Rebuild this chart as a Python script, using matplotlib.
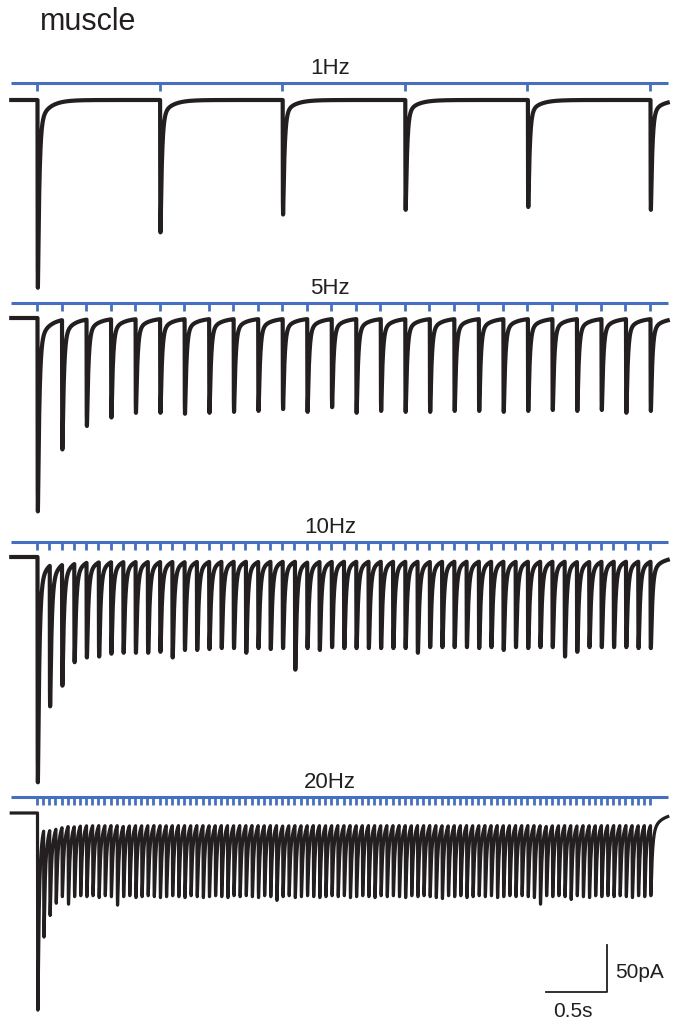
import numpy as np
import matplotlib
matplotlib.use('Agg')
import matplotlib.pyplot as plt

plt.rcParams['font.family'] = ['Liberation Sans', 'DejaVu Sans']

# peak current of each evoked response (pA)
freqs = [1, 5, 10, 20]
labels = ['1Hz', '5Hz', '10Hz', '20Hz']
amp_1hz = [200, 141, 122, 117, 114, 117]
amp_5hz = [206, 140, 115, 106, 101, 101, 102, 101, 100, 99, 97, 100, 95,
           101, 99, 100, 100, 99, 99, 100, 99, 98, 99, 98, 101, 99]
amp_10hz = [240, 159, 137, 112, 107, 106, 103, 102, 102, 102, 101, 107, 99,
            99, 98, 97, 97, 102, 97, 98, 97, 120, 97, 99, 96, 97, 97, 97,
            97, 97, 97, 102, 96, 96, 96, 96, 97, 96, 99, 96, 97, 96, 96,
            106, 101, 96, 96, 96, 96, 97, 97]
amp_20hz = [210, 132, 109, 96, 89, 97, 89, 88, 89, 88, 90, 88, 89, 98, 89, 88, 90, 89, 88, 89,
            90, 89, 88, 89, 90, 88, 89, 90, 89, 88, 89, 90, 88, 89, 88, 89, 90, 88, 89, 93,
            89, 88, 90, 89, 88, 89, 90, 89, 88, 89, 88, 90, 89, 88, 89, 90, 88, 89, 88, 89,
            90, 88, 89, 88, 89, 90, 91, 88, 89, 88, 90, 89, 88, 89, 88, 90, 89, 88, 89, 88,
            89, 90, 97, 88, 89, 88, 89, 92, 88, 89, 90, 88, 89, 88, 89, 88, 89, 90, 88, 89,
            88]
amps = [amp_1hz, amp_5hz, amp_10hz, amp_20hz]

# layout (pixels of the 683x1024 figure)
W, H = 683, 1024
px_per_s = 122.6
px_per_pA = 0.94
x_stim0 = 37
baseline_px = [100, 318, 557, 813]
stimline_px = [83, 303, 542, 797]
t_start, t_end = -0.21, 5.145

blue = '#4670bf'
black = '#231f20'


def kernel(t, tr=0.0012, tf=0.012, ts=0.08, frac=0.9):
    g = (1 - np.exp(-t / tr)) * (frac * np.exp(-t / tf) + (1 - frac) * np.exp(-t / ts))
    g[t < 0] = 0
    return g


def build_trace(t, stims, depths, lat=0.004):
    tk = np.arange(0, 0.3, 0.0001)
    k = kernel(tk)
    norm = k.max()
    tpk = tk[np.argmax(k)]
    y = np.zeros_like(t)
    for s, d in zip(stims, depths):
        # subtract what is left over from earlier responses
        i = np.searchsorted(t, s + lat + tpk)
        resid = -y[min(i, len(y) - 1)]
        a = max(d - resid, 0)
        y -= a * kernel(t - s - lat) / norm
    return y


fig = plt.figure(figsize=(W / 100, H / 100), dpi=100)
ax = fig.add_axes([0, 0, 1, 1])
ax.set_xlim(-x_stim0 / px_per_s, (W - x_stim0) / px_per_s)
ax.set_ylim(-H / px_per_pA, 0)
ax.axis('off')

t = np.arange(t_start, t_end, 0.0004)
for f, lab, a, base, sl in zip(freqs, labels, amps, baseline_px, stimline_px):
    stims = np.arange(len(a)) / f
    y0 = -base / px_per_pA
    ys = -sl / px_per_pA
    lw = 3.0 if f < 20 else 2.3
    ax.plot(t, y0 + build_trace(t, stims, a), color=black, lw=lw, solid_joinstyle='round')
    ax.plot([t_start, t_end], [ys, ys], color=blue, lw=2.2, solid_capstyle='butt')
    ax.vlines(stims, ys, ys - 8 / px_per_pA, color=blue, lw=2.0)
    ax.text((330 - x_stim0) / px_per_s, ys + 9 / px_per_pA, lab, ha='center', va='baseline',
            fontsize=16, color=black)

ax.text(-x_stim0 / px_per_s + 40 / px_per_s, -22 / px_per_pA, 'muscle', ha='left', va='center',
        fontsize=22, color=black)

# scale bar: 0.5 s, 50 pA
sx = (607 - x_stim0) / px_per_s
sy = -992 / px_per_pA
ax.plot([sx - 0.5, sx, sx], [sy, sy, sy + 50], color=black, lw=1.3)
ax.text(sx + 8 / px_per_s, sy + 21, '50pA', ha='left', va='center', fontsize=15, color=black)
ax.text(sx - 0.25 - 3 / px_per_s, sy - 19 / px_per_pA, '0.5s', ha='center', va='center',
        fontsize=15, color=black)

fig.savefig('out.png', dpi=100)
